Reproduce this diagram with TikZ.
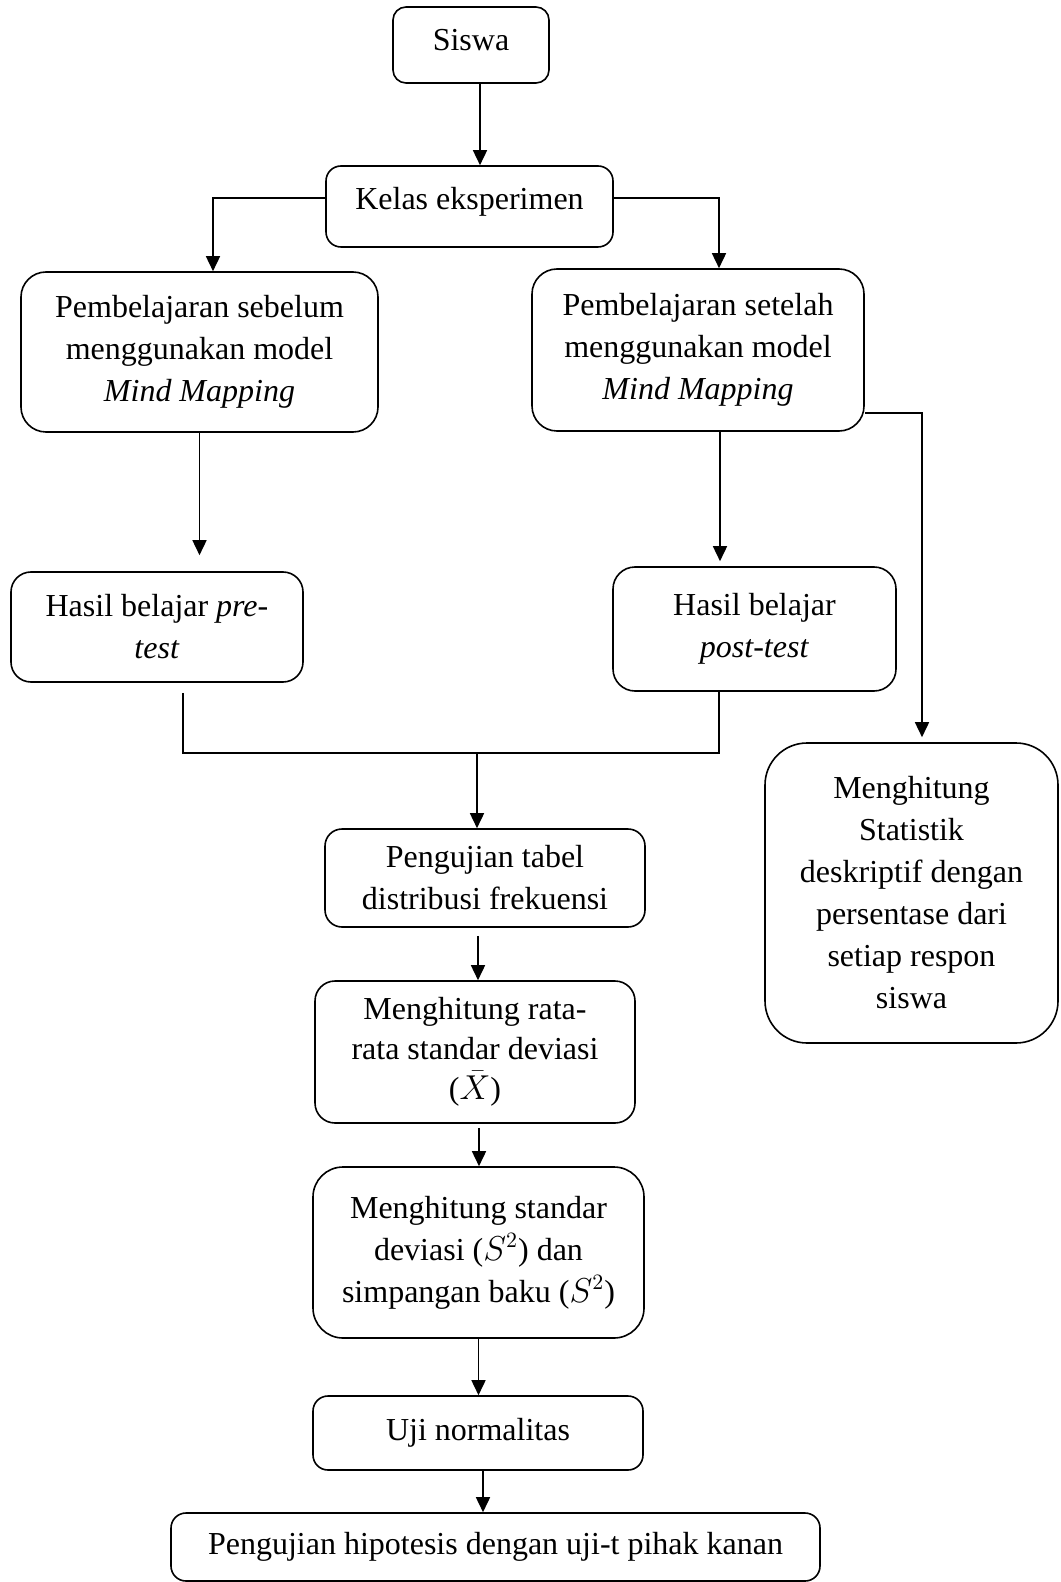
\documentclass[tikz,border=0pt]{standalone}
\usepackage{fontspec}
\setmainfont{Liberation Serif}
\usetikzlibrary{arrows.meta,calc}
\tikzset{
  box/.style={draw, line width=0.8pt, rounded corners=#1, align=center, inner sep=2pt,
              font=\fontsize{16}{21}\selectfont},
  box/.default=7pt,
  arr/.style={line width=0.8pt, -{Triangle[length=7.5pt,width=7pt]}},
  ln/.style={line width=0.8pt},
}
\begin{document}
\begin{tikzpicture}[x=0.5pt,y=-0.5pt]
\useasboundingbox (0,0) rectangle (1060,1582);

\node[box=6.5pt, minimum width=78pt, minimum height=38pt, text depth=5pt] (siswa) at (471,45) {Siswa};
\node[box=7.5pt, minimum width=143.5pt, minimum height=40.5pt, text depth=8pt] (kelas) at (469.5,206.5) {Kelas eksperimen};
\node[box=12.5pt, minimum width=178.5pt, minimum height=80pt] (sebelum) at (199.5,352)
  {Pembelajaran sebelum\\menggunakan model\\\textit{Mind Mapping}};
\node[box=12.5pt, minimum width=166pt, minimum height=81pt] (setelah) at (698,350)
  {Pembelajaran setelah\\menggunakan model\\\textit{Mind Mapping}};
\node[box=10pt, minimum width=146pt, minimum height=55pt] (pre) at (157,627)
  {Hasil belajar \textit{pre-}\\\textit{test}};
\node[box=11pt, minimum width=141.5pt, minimum height=62pt] (post) at (754.5,629)
  {Hasil belajar\\\textit{post-test}};
\node[box=21pt, minimum width=146.5pt, minimum height=150pt] (stats) at (911.5,893)
  {Menghitung\\Statistik\\deskriptif dengan\\persentase dari\\setiap respon\\siswa};
\node[box=8.5pt, minimum width=160pt, minimum height=49pt] (tabel) at (485,878)
  {Pengujian tabel\\distribusi frekuensi};
\node[box=10pt, minimum width=160pt, minimum height=71pt, font=\fontsize{16}{20}\selectfont] (rata) at (475,1052)
  {Menghitung rata-\\rata standar deviasi\\(\smash{$\bar{X}$})};
\node[box=15pt, minimum width=165.5pt, minimum height=85.5pt] (std) at (478.5,1252.5)
  {Menghitung standar\\deviasi ($S^2$) dan\\simpangan baku ($S^2$)};
\node[box=7.5pt, minimum width=165pt, minimum height=37pt] (uji) at (478,1433) {Uji normalitas};
\node[box=7.5pt, minimum width=324.5pt, minimum height=34pt] (hipo) at (495.5,1547)
  {Pengujian hipotesis dengan uji-t pihak kanan};

\draw[arr] ([xshift=4.5pt]siswa.south) -- ([xshift=4.5pt]siswa.south |- kelas.north);
\draw[arr] ([yshift=4.25pt]kelas.west) -| ([xshift=6.75pt]sebelum.north);
\draw[arr] ([yshift=4.25pt]kelas.east) -| ([xshift=10.5pt]setelah.north);
\draw[arr, shorten >=8pt] (sebelum.south) -- (sebelum.south |- pre.north);
\draw[arr, shorten >=2.5pt] ([xshift=11pt]setelah.south) -- ([xshift=11pt]setelah.south |- post.north);
\draw[arr, shorten >=2.5pt] ([yshift=-31.5pt]setelah.east) -| ([xshift=5.25pt]stats.north);
\coordinate (mrg) at (477,753);
\draw[ln] ([xshift=13pt,yshift=-5pt]pre.south) |- (mrg) -| ([xshift=-17.75pt]post.south);
\draw[arr] (mrg) -- (mrg |- tabel.north);
\draw[arr] ([xshift=-3.5pt,yshift=-4pt]tabel.south) -- ([xshift=-3.5pt]tabel.south |- rata.north);
\draw[arr] ([xshift=2pt,yshift=-2pt]rata.south) -- ([xshift=2pt]rata.south |- std.north);
\draw[arr] (std.south) -- (std.south |- uji.north);
\draw[arr] ([xshift=2.5pt]uji.south) -- ([xshift=2.5pt]uji.south |- hipo.north);
\end{tikzpicture}
\end{document}
